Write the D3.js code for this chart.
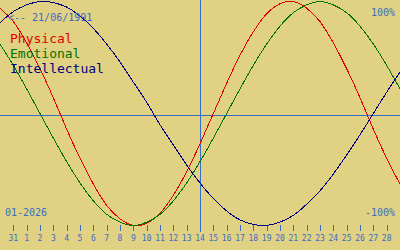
<!DOCTYPE html>
<html>
<head>
<meta charset="utf-8">
<script src="https://cdn.jsdelivr.net/npm/d3@7"></script>
<style>
  html, body { margin: 0; padding: 0; background: #e1d183; }
  svg { display: block; }
  text { font-family: "DejaVu Sans Mono", monospace; }
</style>
</head>
<body>
<div id="chart"></div>
<script>
// day offsets from 31/12/2025 (0) ... one day either side of the visible ticks
const days = [-1, 0, 1, 2, 3, 4, 5, 6, 7, 8, 9, 10, 11, 12, 13, 14, 15, 16, 17, 18, 19, 20, 21, 22, 23, 24, 25, 26, 27, 28, 29];
const tickDays = [0, 1, 2, 3, 4, 5, 6, 7, 8, 9, 10, 11, 12, 13, 14, 15, 16, 17, 18, 19, 20, 21, 22, 23, 24, 25, 26, 27, 28];
const tickLabels = ["31", "1", "2", "3", "4", "5", "6", "7", "8", "9", "10", "11", "12", "13", "14", "15", "16", "17", "18", "19", "20", "21", "22", "23", "24", "25", "26", "27", "28"];

// values (-1 .. 1)
const physical = [0.94, 0.82, 0.63, 0.40, 0.14, -0.14, -0.40, -0.63, -0.82, -0.94, -1.00, -0.98, -0.89, -0.73, -0.52, -0.27, 0.00, 0.27, 0.52, 0.73, 0.89, 0.98, 1.00, 0.94, 0.82, 0.63, 0.40, 0.14, -0.14, -0.40, -0.63];
const emotional = [0.62, 0.43, 0.22, 0.00, -0.22, -0.43, -0.62, -0.78, -0.90, -0.97, -1.00, -0.97, -0.90, -0.78, -0.62, -0.43, -0.22, 0.00, 0.22, 0.43, 0.62, 0.78, 0.90, 0.97, 1.00, 0.97, 0.90, 0.78, 0.62, 0.43, 0.22];
const intellectual = [0.81, 0.91, 0.97, 1.00, 0.99, 0.95, 0.87, 0.76, 0.62, 0.46, 0.28, 0.10, -0.10, -0.28, -0.46, -0.62, -0.76, -0.87, -0.95, -0.99, -1.00, -0.97, -0.91, -0.81, -0.69, -0.54, -0.37, -0.19, 0.00, 0.19, 0.37];

const seriesNames = ["Physical", "Emotional", "Intellectual"];
const today = 14;
const birthLabel = "<-- 21/06/1991";
const monthLabel = "01-2026";

const g_blue = "#3a6cc6";
const colors = ["#e00000", "#007400", "#000080"];

const width = 400, height = 250;
const midY = 115;

const svg = d3.select("#chart").append("svg")
  .attr("width", width)
  .attr("height", height);

const x = d3.scaleLinear().domain([-1, 29]).range([0, width]);
const y = d3.scaleLinear().domain([-1, 1]).range([225.5, 1.5]);

// today marker and mid line
svg.append("line")
  .attr("x1", Math.round(x(today)) + 0.5).attr("x2", Math.round(x(today)) + 0.5)
  .attr("y1", 0).attr("y2", 232)
  .attr("stroke", g_blue);

svg.append("line")
  .attr("x1", 0).attr("x2", width)
  .attr("y1", midY + 0.5).attr("y2", midY + 0.5)
  .attr("stroke", g_blue);

// day ticks
const ticks = svg.append("g");
ticks.selectAll("line")
  .data(tickDays)
  .enter().append("line")
  .attr("x1", d => Math.round(x(d)) + 0.5)
  .attr("x2", d => Math.round(x(d)) + 0.5)
  .attr("y1", 225).attr("y2", 231)
  .attr("stroke", g_blue);

ticks.selectAll("text")
  .data(tickDays)
  .enter().append("text")
  .attr("x", d => x(d))
  .attr("y", 241)
  .attr("text-anchor", "middle")
  .attr("font-size", 8)
  .attr("fill", g_blue)
  .text((d, i) => tickLabels[i]);

// curves
const line = d3.line()
  .x((d, i) => x(days[i]))
  .y(d => y(d))
  .curve(d3.curveNatural);

[physical, emotional, intellectual].forEach((s, i) => {
  svg.append("path")
    .datum(s)
    .attr("d", line)
    .attr("fill", "none")
    .attr("stroke", colors[i])
    .attr("stroke-width", 1)
    .attr("shape-rendering", "crispEdges");
});

// labels
svg.append("text")
  .attr("x", 8).attr("y", 21)
  .attr("font-size", 10)
  .attr("fill", g_blue)
  .text(birthLabel);

svg.selectAll(".legend")
  .data(seriesNames)
  .enter().append("text")
  .attr("class", "legend")
  .attr("x", 10)
  .attr("y", (d, i) => 43 + i * 15)
  .attr("font-size", 13)
  .attr("fill", (d, i) => colors[i])
  .text(d => d);

svg.append("text")
  .attr("x", 5).attr("y", 216)
  .attr("font-size", 10)
  .attr("fill", g_blue)
  .text(monthLabel);

svg.append("text")
  .attr("x", 395).attr("y", 16)
  .attr("text-anchor", "end")
  .attr("font-size", 10)
  .attr("fill", g_blue)
  .text("100%");

svg.append("text")
  .attr("x", 395).attr("y", 216)
  .attr("text-anchor", "end")
  .attr("font-size", 10)
  .attr("fill", g_blue)
  .text("-100%");
</script>
</body>
</html>
